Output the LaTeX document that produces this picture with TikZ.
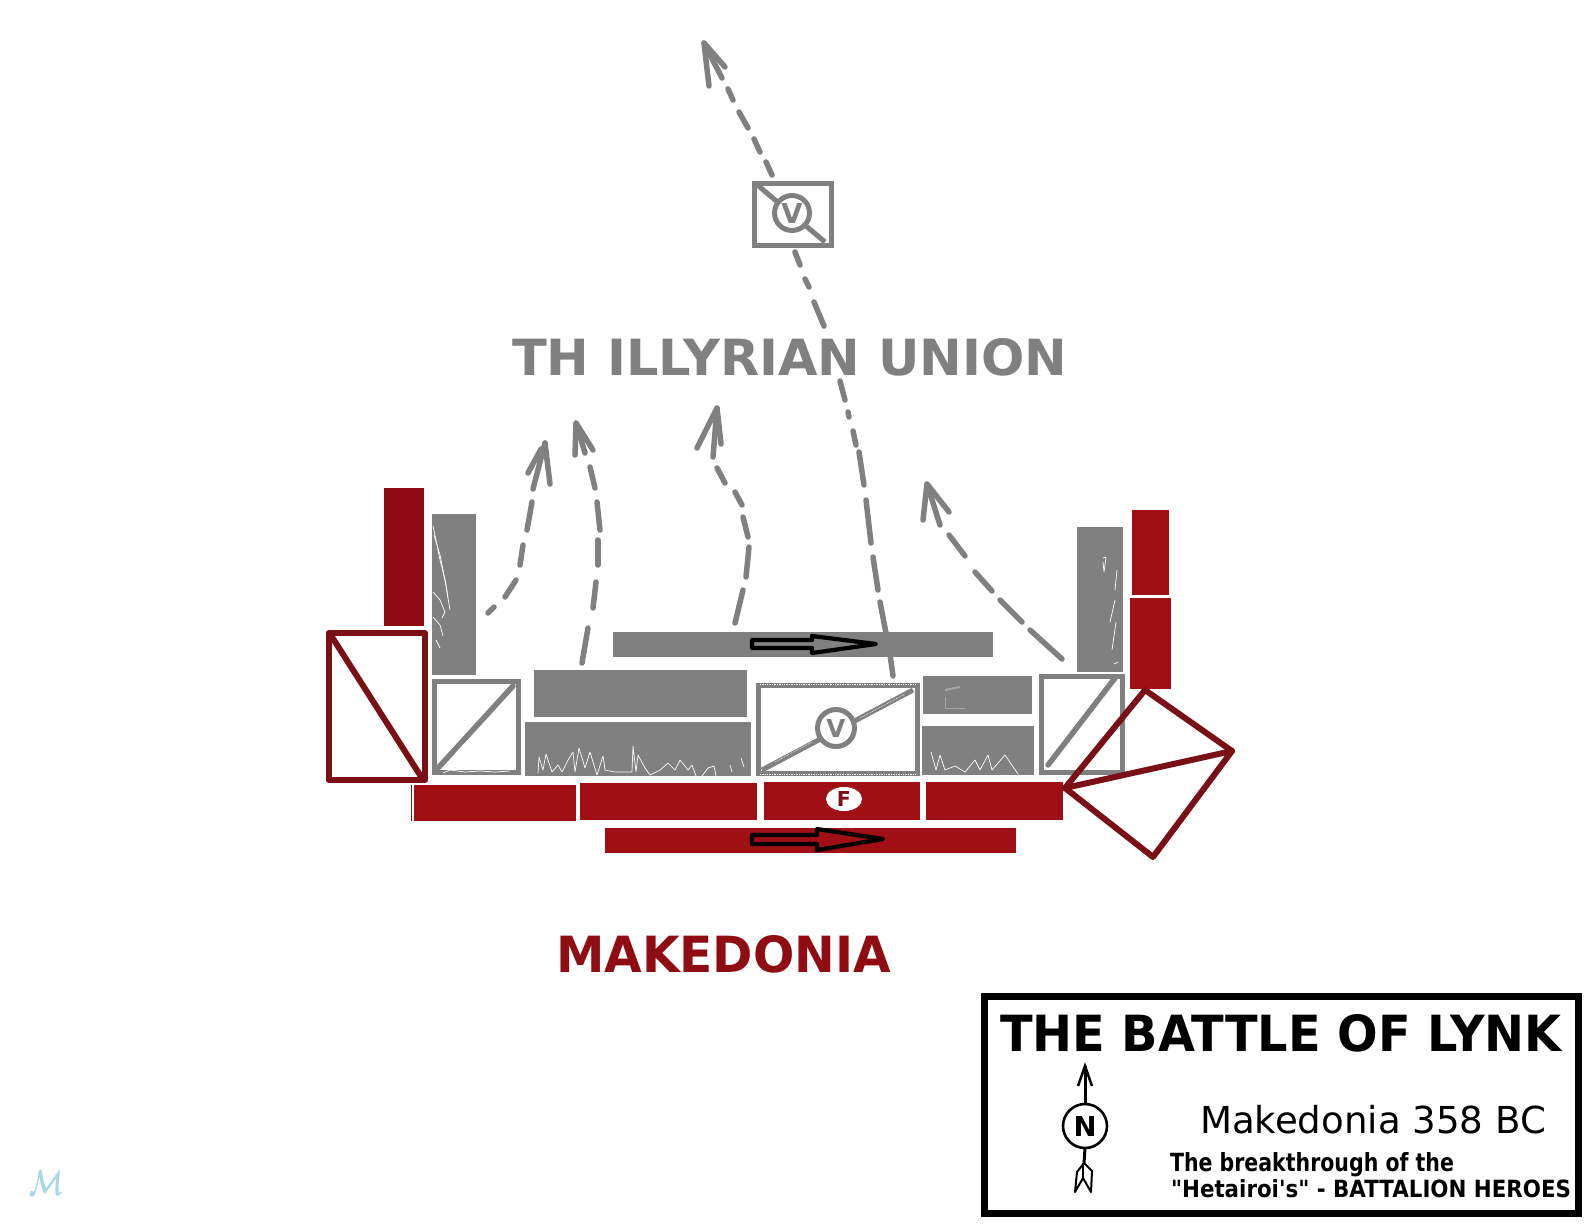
\documentclass[tikz,border=0pt]{standalone}
\usepackage{graphicx}
\usepackage{fontspec}
\setmainfont{DejaVu Sans}
\newfontfamily\plainquotes{DejaVu Sans}
\usetikzlibrary{calc,shapes.geometric}
\definecolor{gr}{HTML}{808080}
\definecolor{rd}{HTML}{A00F14}
\definecolor{rdd}{HTML}{8F0D12}
\definecolor{rdl}{HTML}{7A1016}
\definecolor{pale}{HTML}{A8D8E6}
\tikzset{
  lbl/.style={inset,anchor=base west},
  inset/.style={inner sep=0pt,outer sep=0pt},
  grbox/.style={draw=gr,line width=5pt,fill=white,line join=miter},
  rdbox/.style={draw=rdl,line width=6pt,line join=round,line cap=round},
  dashseg/.style={draw=gr,line width=5.5pt,line cap=round},
  barb/.style={draw=gr,line width=5.5pt,line cap=round,line join=round},
  scrib/.style={draw=white,line width=.7pt,line join=round},
  flowarrow/.style={draw=black,line width=4.2pt,line join=round},
}
\begin{document}
\begin{tikzpicture}[x=1pt,y=-1pt]
\useasboundingbox (0,0) rectangle (1586,1224);
\fill[white] (0,0) rectangle (1586,1224);
% red columns
\fill[rdd] (384,488) rectangle (424,626);
\fill[rd] (1132,510) rectangle (1169,595);
\fill[rd] (1130,598) rectangle (1171,689);
% grey blocks
\fill[gr] (432,514) rectangle (476,675);
\fill[gr] (1077,527) rectangle (1123,672);
\fill[gr] (613,632) rectangle (993,657);
\fill[gr] (534,670) rectangle (747,717);
\fill[gr] (525,722) rectangle (751,776);
\fill[gr] (923,676) rectangle (1032,714);
\fill[gr] (922,726) rectangle (1034,775);
% scribbles
\draw[scrib] (433,526) -- (437,545) -- (440,560) -- (445,580) -- (450,610);
\draw[scrib] (434,535) -- (440,555) -- (446,585) -- (448,598);
\draw[scrib] (433,592) -- (440,600) -- (445,612) -- (442,618);
\draw[scrib] (433,617) -- (440,625) -- (443,636);
\draw[scrib] (436,640) -- (440,648);
\draw[scrib] (1103,558) -- (1106,557) -- (1104,572) -- (1103,562);
\draw[scrib] (1117,570) -- (1115,590);
\draw[scrib] (1115,600) -- (1110,622);
\draw[scrib] (1116,622) -- (1112,650);
\draw[scrib] (1114,664) -- (1118,662);
\draw[scrib] (538,773) -- (539,757) -- (543,770) -- (546,754) -- (552,772) -- (558,765) -- (562,772) -- (568,760) -- (573,752) -- (575,772) -- (579,748) -- (585,768) -- (590,752) -- (597,775) -- (603,756) -- (605,770) -- (615,772) -- (632,772) -- (633,746) -- (636,772) -- (638,755) -- (645,768) -- (650,775) -- (660,770) -- (668,763) -- (675,770) -- (680,760) -- (688,770) -- (692,765) -- (696,776);
\draw[scrib] (702,776) -- (708,768) -- (714,766) -- (716,776);
\draw[scrib] (730,765) -- (732,772);
\draw[scrib] (741,758) -- (744,767);
\draw[scrib] (931,752) -- (936,770) -- (940,755) -- (945,770) -- (955,766) -- (965,772) -- (975,760) -- (980,770) -- (988,755) -- (992,770) -- (1005,755) -- (1018,774);
\draw[draw=gr!70!white,line width=2pt] (945,690) -- (960,687);
\draw[draw=gr!70!white,line width=1pt] (945,697) -- (945,708) -- (965,708);
% red bars
\fill[rd] (414,785) rectangle (576,821);
\fill[rd] (580,783) rectangle (757,820);
\fill[rd] (764,782) rectangle (920,820);
\fill[rd] (926,782) rectangle (1063,820);
\fill[rd] (605,828) rectangle (1016,853);
\draw[rdl,line width=.7pt] (411,785) -- (411,821);
% flow arrows
\draw[flowarrow] (752,640) -- (812,640) -- (812,636) -- (876,644) -- (812,653) -- (812,648) -- (752,648) -- cycle;
\draw[flowarrow] (752,835) -- (817,835) -- (817,829) -- (883,839) -- (817,850) -- (817,844) -- (752,844) -- cycle;
% F label
\node[inset,ellipse,fill=white,minimum width=36pt,minimum height=24pt] at (844,799) (fe) {};
\node[inset,text=rdl,font=\bfseries] at (fe.center) (ft) {\resizebox{!}{15pt}{F}};
% red outline box
\draw[rdbox] (328.5,633) rectangle (425,780);
\draw[rdbox] (332,637) -- (420,775);
% grey outline boxes
\draw[grbox] (434.5,681.5) rectangle (518.5,772.5);
\draw[draw=gr,line width=5.5pt,line cap=round] (513,686) -- (438,768);
\foreach \a/\b in {470/722,480/733,455/750}{\draw[white,line width=.6pt] (\a,\b+4) -- (\a+10,\b-7);}
\draw[scrib] (443,773) -- (450,770) -- (465,772) -- (480,771) -- (495,772) -- (510,771);
\draw[grbox] (758,685) rectangle (917,773);
\draw[draw=gr,line width=5pt] (762,770) -- (913,690);
\draw[grbox] (1041,676.5) rectangle (1122,772);
\draw[draw=gr,line width=5.5pt,line cap=round] (1115,678) -- (1048,765);
\draw[scrib,densely dotted] (760,684) -- (915,684);
\draw[scrib,densely dotted] (760,774) -- (915,774);
\draw[scrib,densely dotted] (775,762) -- (812,742);
\draw[scrib,densely dotted] (860,718) -- (905,694);
% centre circle
\node[inset,circle,draw=gr,line width=5pt,fill=white,minimum size=37pt] at (836,728) (cv) {};
\node[inset,text=gr,font=\bfseries] at (cv.center) (cvt) {\resizebox{!}{18pt}{V}};
% red diamond
\draw[rdbox] (1145,690) -- (1232,751) -- (1153,857) -- (1065,788) -- cycle;
\draw[rdbox] (1065,788) -- (1232,751);
% dashed arrow 1
\foreach \a/\b/\c/\d in {488/613/494/607, 505/597/516/580, 520/565/523/545, 527/530/532/502}{\draw[dashseg] (\a,\b) -- (\c,\d);}
\draw[barb] (533,489) -- (545,443);
\draw[barb] (528,473) -- (541,449);
\draw[barb] (550,484) -- (545,443);
% dashed arrow 2
\foreach \a/\b/\c/\d in {582/663/588/628, 593/608/596/582, 598/565/598/540, 600/530/597/502, 595/488/590/467}{\draw[dashseg] (\a,\b) -- (\c,\d);}
\draw[barb] (575,455) -- (576,423) -- (593,450);
\draw[barb] (576,423) -- (585,453);
% dashed arrow 3
\foreach \a/\b/\c/\d in {735/623/743/590, 746/577/749/547, 748/537/743/517, 742/505/735/492, 725/483/717/468}{\draw[dashseg] (\a,\b) -- (\c,\d);}
\draw[barb] (697,448) -- (717,408) -- (721,444);
\draw[barb] (717,408) -- (713,457);
% dashed arrow 4
\foreach \a/\b/\c/\d in {1062/659/1030/630, 1022/622/1000/600, 992/591/975/572, 965/556/949/535}{\draw[dashseg] (\a,\b) -- (\c,\d);}
\draw[barb] (923,520) -- (927,484) -- (949,512);
\draw[barb] (927,484) -- (940,525);
% long dashed arrow, upper part
\foreach \a/\b/\c/\d in {772/175/766/162, 760/152/754/139, 748/128/739/112, 733/100/728/89}{\draw[dashseg] (\a,\b) -- (\c,\d);}
\draw[barb] (709,86) -- (704,43) -- (725,67);
\draw[barb] (704,43) -- (722,78);
% long dashed arrow, lower part
\foreach \a/\b/\c/\d in {795/252/800/265, 805/279/809/287, 814/302/824/326, 840/381/845/400, 848/412/849/417, 853/431/856/445, 859/452/864/485, 866/500/871/543, 873/557/878/590, 880/602/886/633, 888/640/893/676}{\draw[dashseg] (\a,\b) -- (\c,\d);}
% V box
\draw[draw=gr,line width=5pt,fill=white] (754,183) rectangle (831,245);
\draw[draw=gr,line width=5pt] (755,183) -- (825,242);
\node[inset,circle,draw=gr,line width=5pt,fill=white,minimum size=35pt] at (792,213) (tv) {};
\node[inset,text=gr,font=\bfseries] at (tv.center) (tvt) {\resizebox{!}{20pt}{V}};
% main labels
\node[lbl,text=gr,font=\bfseries] at (512,375) (union) {\resizebox{555pt}{37pt}{TH ILLYRIAN UNION}};
\node[lbl,text=rdd,font=\bfseries] at (556,972) (mak) {\resizebox{335pt}{37pt}{MAKEDONIA}};
% legend
\draw[black,line width=7pt,fill=white] (984.5,996) rectangle (1578.5,1213);
\node[lbl,font=\bfseries] at (1000,1051) (title) {\resizebox{562pt}{37pt}{THE BATTLE OF LYNK}};
\node[lbl] at (1200,1133) (sub) {\resizebox{346pt}{!}{Makedonia 358 BC}};
\node[lbl,font=\plainquotes\bfseries] at (1170,1171) (l1) {\resizebox{284pt}{19pt}{The breakthrough of the}};
\node[lbl,font=\plainquotes\bfseries] at (1171,1197) (l2) {\resizebox{400pt}{18pt}{"Hetairoi's" - BATTALION HEROES}};
% north arrow
\node[inset,circle,draw=black,line width=2.6pt,minimum size=44pt] at (1085,1126) (nc) {};
\node[inset,font=\bfseries] at (nc.center) (nt) {\resizebox{!}{20pt}{N}};
\coordinate (ntip) at (1085,1066);
\draw[black,line width=3pt] (nc.north) -- (ntip);
\draw[black,line width=2.5pt] (1078,1086) -- (ntip) -- (1092,1086);
\draw[black,line width=3pt] (nc.south) -- (1084,1163);
\draw[black,line width=2pt,line join=round] (1084,1163) -- (1077,1172) -- (1075,1192) -- (1083,1178) -- (1091,1192) -- (1092,1171) -- cycle;
\draw[black,line width=1.5pt] (1083,1163) -- (1083,1178);
% signature
\node[inset,text=pale] at (47,1183) (sig) {\resizebox{34pt}{25pt}{\boldmath$\mathcal{M}$}};
\end{tikzpicture}
\end{document}
